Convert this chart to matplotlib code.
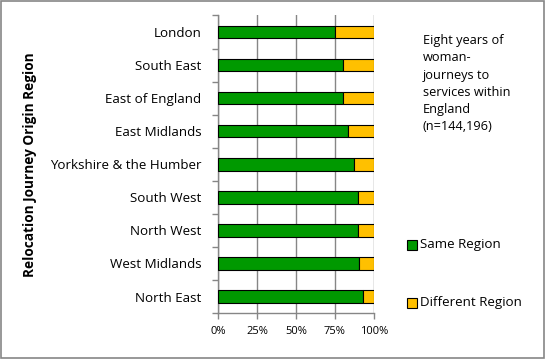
import matplotlib
matplotlib.use("Agg")
import matplotlib.pyplot as plt
import numpy as np
from matplotlib.patches import Rectangle

regions = ["London", "South East", "East of England", "East Midlands",
           "Yorkshire & the Humber", "South West", "North West",
           "West Midlands", "North East"]
same_region = [75.1, 80.3, 80.2, 83.5, 87.4, 89.9, 89.9, 90.5, 93.1]
different_region = [100 - v for v in same_region]
x_ticks = [0, 25, 50, 75, 100]
x_ticklabels = ["0%", "25%", "50%", "75%", "100%"]

plt.rcParams['font.family'] = ['Open Sans', 'DejaVu Sans']

green = "#009900"
yellow = "#FFC000"
gray = "#868686"

fig = plt.figure(figsize=(5.45, 3.59), dpi=100)
ax = fig.add_axes([0.400, 0.128, 0.286, 0.829])

y = np.arange(len(regions))[::-1]
ax.barh(y, same_region, height=0.38, color=green, edgecolor="black", linewidth=0.8, zorder=3)
ax.barh(y, different_region, left=same_region, height=0.38, color=yellow,
        edgecolor="black", linewidth=0.8, zorder=3)

ax.set_xlim(0, 100)
ax.set_ylim(-0.5, len(regions) - 0.5)
ax.set_xticks(x_ticks)
ax.set_xticklabels(x_ticklabels, fontsize=8)
ax.set_yticks(y)
ax.set_yticklabels(regions, fontsize=9.6)
ax.set_yticks(np.arange(-0.5, len(regions), 1), minor=True)
ax.tick_params(axis='y', which='major', length=0, pad=12)
ax.tick_params(axis='y', which='minor', length=4, color=gray, width=1)
ax.tick_params(axis='x', which='major', length=4, color=gray, width=1, pad=5)
ax.grid(axis='x', color=gray, linewidth=1, zorder=0)
for s in ['top', 'right']:
    ax.spines[s].set_visible(False)
for s in ['left', 'bottom']:
    ax.spines[s].set_color(gray)
    ax.spines[s].set_linewidth(1)

ax.set_ylabel("Relocation Journey Origin Region", fontsize=9.8, fontweight='bold', labelpad=9)

fig.text(0.776, 0.905, "Eight years of\nwoman-\njourneys to\nservices within\nEngland\n(n=144,196)",
         fontsize=9.2, va='top', ha='left', linespacing=1.42)

# legend
for yy, col, lab in [(0.318, green, "Same Region"), (0.158, yellow, "Different Region")]:
    fig.patches.append(Rectangle((0.746, yy - 0.015), 0.0183, 0.028, transform=fig.transFigure,
                                 facecolor=col, edgecolor='black', linewidth=0.8))
    fig.text(0.771, yy, lab, fontsize=9.6, va='center', ha='left')

fig.patches.append(Rectangle((0.001, 0.002), 0.997, 0.996, transform=fig.transFigure,
                             facecolor='none', edgecolor=gray, linewidth=1.2))

fig.savefig("out.png", dpi=100)
